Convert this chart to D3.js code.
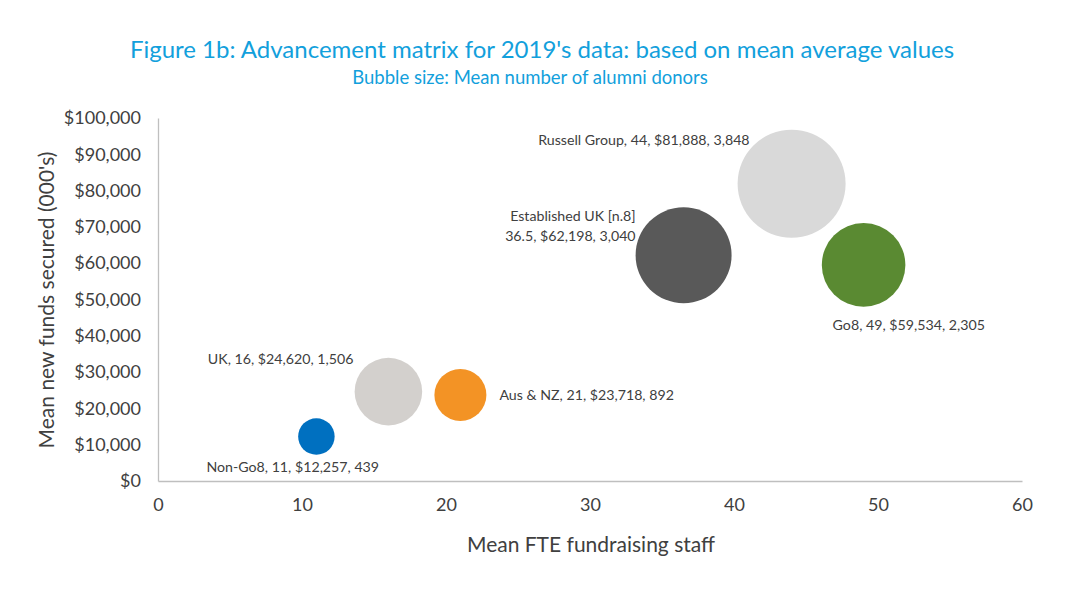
<!DOCTYPE html>
<html><head><meta charset="utf-8">
<script src="https://cdn.jsdelivr.net/npm/d3@7"></script>
<style>
body{margin:0;background:#fff;}
svg{display:block;}
text{font-family:Lato,"Open Sans",sans-serif;}
</style></head>
<body>
<svg id="c" width="1065" height="605"></svg>
<script>
const names = ["Non-Go8","UK","Aus & NZ","Established UK [n.8]","Russell Group","Go8"];
const staff = [11,16,21,36.5,44,49];
const funds = [12257,24620,23718,62198,81888,59534];
const donors = [439,1506,892,3040,3848,2305];
const labelLines = [
  ["Non-Go8, 11, $12,257, 439"],
  ["UK, 16, $24,620, 1,506"],
  ["Aus & NZ, 21, $23,718, 892"],
  ["Established UK [n.8]","36.5, $62,198, 3,040"],
  ["Russell Group, 44, $81,888, 3,848"],
  ["Go8, 49, $59,534, 2,305"]
];
const colors = ["#0070c0","#d3d0cd","#f39325","#595959","#d9d9d9","#5a8a32"];
const xTicks = [0,10,20,30,40,50,60];
const yTicks = [0,10000,20000,30000,40000,50000,60000,70000,80000,90000,100000];

// label placement (style): anchor, dx, dy from bubble centre
const labelPos = [
  {a:"start", dx:-110, dy:35},
  {a:"end", dx:-35, dy:-28},
  {a:"start", dx:39, dy:5},
  {a:"end", dx:-48, dy:-34},
  {a:"end", dx:-42, dy:-39},
  {a:"start", dx:-31, dy:65}
];

const svg = d3.select("#c");
const x = d3.scaleLinear().domain([0,60]).range([158,1022]);
const y = d3.scaleLinear().domain([0,100000]).range([481,118]);
const r = d3.scaleSqrt().domain([0,3848]).range([0,54]);

svg.append("text").attr("x",542).attr("y",58).attr("text-anchor","middle")
  .attr("fill","#12a0dc").attr("font-size",24).text("Figure 1b: Advancement matrix for 2019's data: based on mean average values");
svg.append("text").attr("x",530).attr("y",84).attr("text-anchor","middle")
  .attr("fill","#12a0dc").attr("font-size",18.5).text("Bubble size: Mean number of alumni donors");

const fmt = d3.format("$,");
const yAxis = svg.append("g").attr("transform","translate(158,0)")
  .call(d3.axisLeft(y).tickValues(yTicks).tickSize(0).tickPadding(17).tickFormat(d=>fmt(d)));
yAxis.select(".domain").attr("stroke","#bfbfbf").attr("stroke-width",1.3);
yAxis.selectAll("text").attr("font-size",18).attr("fill","#404040").attr("font-family","Lato,sans-serif");

const xAxis = svg.append("g").attr("transform","translate(0,481)")
  .call(d3.axisBottom(x).tickValues(xTicks).tickSize(0).tickPadding(17));
xAxis.select(".domain").attr("stroke","#bfbfbf").attr("stroke-width",1.3);
xAxis.selectAll("text").attr("font-size",18).attr("fill","#404040").attr("font-family","Lato,sans-serif");

svg.append("text").attr("x",591).attr("y",552).attr("text-anchor","middle")
  .attr("fill","#404040").attr("font-size",21).text("Mean FTE fundraising staff");
svg.append("text").attr("transform","translate(54,300) rotate(-90)").attr("text-anchor","middle")
  .attr("fill","#404040").attr("font-size",21).text("Mean new funds secured (000's)");

const idx = d3.range(names.length);
svg.append("g").selectAll("circle").data(idx).join("circle")
  .attr("cx",i=>x(staff[i])).attr("cy",i=>y(funds[i])).attr("r",i=>r(donors[i]))
  .attr("fill",i=>colors[i]);

const lg = svg.append("g");
idx.forEach(i=>{
  const p = labelPos[i];
  const t = lg.append("text").attr("text-anchor",p.a).attr("fill","#404040").attr("font-size",14.2);
  labelLines[i].forEach((l,j)=>{
    t.append("tspan").attr("x",x(staff[i])+p.dx).attr("y",y(funds[i])+p.dy+j*20).text(l);
  });
});
</script>
</body></html>
